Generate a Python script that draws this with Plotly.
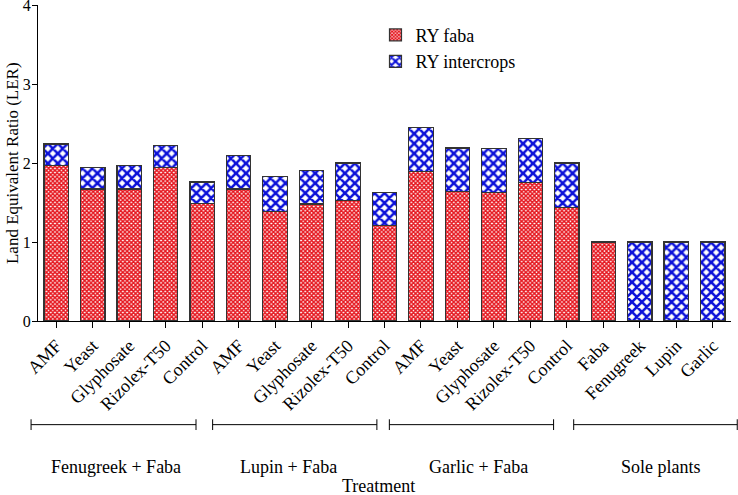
import plotly.graph_objects as go

# ---- data ----
tick_labels = ["AMF", "Yeast", "Glyphosate", "Rizolex-T50", "Control",
               "AMF", "Yeast", "Glyphosate", "Rizolex-T50", "Control",
               "AMF", "Yeast", "Glyphosate", "Rizolex-T50", "Control",
               "Faba", "Fenugreek", "Lupin", "Garlic"]
ry_faba = [1.97, 1.67, 1.67, 1.94, 1.49,
           1.67, 1.39, 1.48, 1.53, 1.21,
           1.89, 1.64, 1.63, 1.75, 1.44,
           1.00, 0.00, 0.00, 0.00]
ry_intercrops = [0.27, 0.27, 0.30, 0.28, 0.27,
                 0.43, 0.44, 0.43, 0.47, 0.42,
                 0.56, 0.55, 0.55, 0.56, 0.56,
                 0.00, 1.00, 1.00, 1.00]
groups = ["Fenugreek + Faba", "Lupin + Faba", "Garlic + Faba", "Sole plants"]

x = list(range(len(tick_labels)))
FONT = "Liberation Serif, Times New Roman, serif"

fig = go.Figure()
fig.add_trace(go.Bar(
    x=x, y=ry_faba, name="RY faba", width=0.67,
    marker=dict(color="white",
                line=dict(color="#333333", width=1.2),
                pattern=dict(shape="x", fgcolor="#e5161e", bgcolor="white",
                             size=3, solidity=0.75, fillmode="replace")),
))
fig.add_trace(go.Bar(
    x=x, y=ry_intercrops, name="RY intercrops", width=0.67,
    marker=dict(color="white",
                line=dict(color="#333333", width=1.2),
                pattern=dict(shape="x", fgcolor="#0b10d8", bgcolor="white",
                             size=7, solidity=0.6, fillmode="replace")),
))

# group brackets (paper coordinates)
spans = [(-0.010, 0.228), (0.252, 0.489), (0.507, 0.744), (0.773, 1.009)]
centers = [0.112, 0.361, 0.635, 0.899]
yb, cap = -0.328, 0.017
shapes = []
annotations = []
for (a, b), c, g in zip(spans, centers, groups):
    shapes.append(dict(type="line", xref="paper", yref="paper", x0=a, x1=b, y0=yb, y1=yb,
                       line=dict(color="black", width=1)))
    for xx in (a, b):
        shapes.append(dict(type="line", xref="paper", yref="paper", x0=xx, x1=xx,
                           y0=yb - cap, y1=yb + cap, line=dict(color="black", width=1)))
    annotations.append(dict(text=g, xref="paper", yref="paper", x=c, y=-0.462,
                            showarrow=False, font=dict(size=18, family=FONT, color="black"),
                            xanchor="center", yanchor="middle"))
annotations.append(dict(text="Treatment", xref="paper", yref="paper", x=0.492, y=-0.523,
                        showarrow=False, font=dict(size=18, family=FONT, color="black"),
                        xanchor="center", yanchor="middle"))
annotations.append(dict(text="Land Equivalent Ratio (LER)", xref="paper", yref="paper",
                        x=-0.0375, y=0.5, textangle=-90, showarrow=False,
                        font=dict(size=17, family=FONT, color="black"),
                        xanchor="center", yanchor="middle"))

fig.update_layout(
    width=738, height=495,
    margin=dict(l=38, r=7, t=5, b=174, autoexpand=False),
    barmode="stack",
    plot_bgcolor="white", paper_bgcolor="white",
    font=dict(family=FONT, color="black", size=16),
    showlegend=True,
    legend=dict(x=0.487, y=0.963, xanchor="left", yanchor="top", traceorder="normal",
                bgcolor="rgba(0,0,0,0)", font=dict(size=18, family=FONT),
                tracegroupgap=0),
    shapes=shapes,
    annotations=annotations,
)
fig.update_xaxes(range=[-0.5, 18.5], tickmode="array", tickvals=x, ticktext=tick_labels,
                 tickangle=-45, showline=True, linecolor="black", linewidth=1.2,
                 ticks="outside", ticklen=6, tickcolor="black", showgrid=False,
                 zeroline=False, automargin=False, ticklabeloverflow="allow",
                 tickfont=dict(size=18, family=FONT))
fig.update_yaxes(range=[0, 4], tickvals=[0, 1, 2, 3, 4], showline=True, linecolor="black",
                 linewidth=1.2, ticks="outside", ticklen=5, tickcolor="black",
                 showgrid=False, zeroline=False, automargin=False,
                 ticklabelstandoff=-2,
                 ticklabeloverflow="allow", tickfont=dict(size=16, family=FONT))

fig.write_html("out.html", config={"displayModeBar": False},
               post_script="document.body.style.margin='0';document.body.style.overflow='hidden';")
